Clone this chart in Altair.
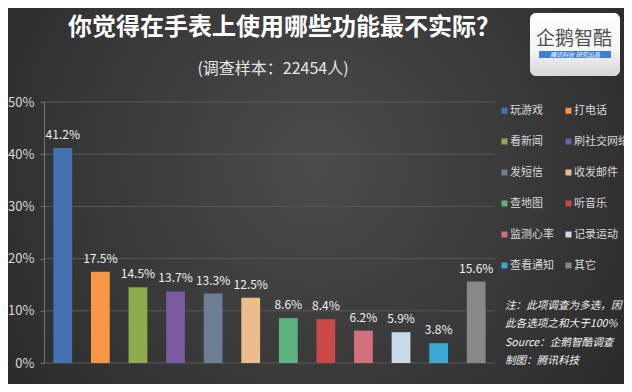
import altair as alt
import pandas as pd

# ---- data ----
categories = ["玩游戏", "打电话", "看新闻", "刷社交网络", "发短信", "收发邮件",
              "查地图", "听音乐", "监测心率", "记录运动", "查看通知", "其它"]
values = [41.2, 17.5, 14.5, 13.7, 13.3, 12.5, 8.6, 8.4, 6.2, 5.9, 3.8, 15.6]
colors = ["#4472b0", "#f79646", "#8fac4c", "#7a5aa0", "#6c7f93", "#ecbc8a",
          "#5db37e", "#c94848", "#d2707c", "#c9dbe8", "#3aa9d3", "#888888"]
y_ticks = [0, 10, 20, 30, 40, 50]
title_text = "你觉得在手表上使用哪些功能最不实际？"
subtitle_text = "(调查样本：22454人)"
notes_lines = ["注：此项调查为多选，因", "此各选项之和大于100%", "",
               "Source：企鹅智酷调查", "制图：腾讯科技"]
logo_name = "企鹅智酷"
logo_tag = "腾讯科技  研究出品"

# ---- layout ----
W, H = 451, 261
PAD_L, PAD_T, PAD_R, PAD_B = 36, 94, 129, 21
FONT = "Noto Sans CJK SC"

df = pd.DataFrame({"category": categories, "value": values})
grid_df = pd.DataFrame({"value": y_ticks})
one = pd.DataFrame({"k": [0]})

# legend fills column by column: order so it reads row by row (2 columns)
legend_order = categories[0::2] + categories[1::2]
legend_colors = colors[0::2] + colors[1::2]

yscale = alt.Scale(domain=[0, 50], nice=False, zero=True)
yaxis = alt.Axis(values=y_ticks, labelExpr="datum.value + '%'",
                 title=None, grid=False, zindex=2,
                 domainColor="#737373", tickColor="#737373",
                 tickSize=4, labelPadding=6, labelColor="#d9d9d9",
                 labelFontSize=13, labelFont=FONT)
xenc = alt.X("category:N", sort=None, axis=None,
             scale=alt.Scale(paddingInner=0.5, paddingOuter=0.25))

bg = alt.Chart(one).mark_rect(
    fill=alt.RadialGradient(
        gradient="radial", x1=0.5, y1=0.45, x2=0.5, y2=0.45, r1=0, r2=0.75,
        stops=[alt.GradientStop(offset=0, color="#4b4b4b"),
               alt.GradientStop(offset=1, color="#242424")])
).encode(x=alt.value(-PAD_L), x2=alt.value(W + PAD_R),
         y=alt.value(-PAD_T), y2=alt.value(H + PAD_B))

grid = alt.Chart(grid_df).mark_rule(color="#5a5a5a", strokeWidth=1).encode(
    y=alt.Y("value:Q", scale=yscale, axis=yaxis),
    x=alt.value(0), x2=alt.value(W))

bars = alt.Chart(df).mark_bar().encode(
    x=xenc,
    y=alt.Y("value:Q", scale=yscale, axis=yaxis),
    color=alt.Color("category:N", sort=legend_order,
                    scale=alt.Scale(domain=legend_order, range=legend_colors),
                    legend=alt.Legend(orient="none", legendX=455, legendY=3,
                                      columns=2, title=None,
                                      symbolType="square", symbolSize=36,
                                      symbolStrokeWidth=0,
                                      labelColor="#d9d9d9", labelFontSize=11,
                                      labelFont=FONT, rowPadding=19,
                                      columnPadding=9, labelOffset=0,
                                      padding=0)))

labels = alt.Chart(df).transform_calculate(
    label="format(datum.value, '.1f') + '%'"
).mark_text(baseline="bottom", dy=-6, color="#f0f0f0", fontSize=12,
            font=FONT).encode(
    x=xenc, y=alt.Y("value:Q", scale=yscale, axis=yaxis), text="label:N")

title = alt.Chart(one).mark_text(
    text=title_text, font=FONT, fontSize=24, fontWeight="bold",
    color="#ffffff", align="center", baseline="middle"
).encode(x=alt.value(240), y=alt.value(-74))

subtitle = alt.Chart(one).mark_text(
    text=subtitle_text, font=FONT, fontSize=16, color="#e6e6e6",
    align="center", baseline="middle"
).encode(x=alt.value(229), y=alt.value(-33))

logo_box = alt.Chart(one).mark_rect(
    cornerRadius=6,
    fill=alt.LinearGradient(
        gradient="linear", x1=0, y1=0, x2=0, y2=1,
        stops=[alt.GradientStop(offset=0, color="#ffffff"),
               alt.GradientStop(offset=0.6, color="#f4f4f4"),
               alt.GradientStop(offset=1, color="#d6d6d6")])
).encode(x=alt.value(486), x2=alt.value(576), y=alt.value(-89), y2=alt.value(-26))

logo_text = alt.Chart(one).mark_text(
    text=logo_name, font=FONT, fontSize=19, color="#505050",
    align="center", baseline="middle"
).encode(x=alt.value(530), y=alt.value(-63))

logo_bar = alt.Chart(one).mark_rect(fill="#3b82d6").encode(
    x=alt.value(495), x2=alt.value(567), y=alt.value(-51), y2=alt.value(-44))

logo_tag_text = alt.Chart(one).mark_text(
    text=logo_tag, font=FONT, fontSize=6, color="#ffffff", fontStyle="italic",
    align="center", baseline="middle"
).encode(x=alt.value(531), y=alt.value(-47.5))

notes = alt.Chart(one).mark_text(
    text=notes_lines, font=FONT, fontSize=10.6, color="#f2f2f2",
    fontStyle="italic", align="left", baseline="alphabetic", lineHeight=18.3
).encode(x=alt.value(461), y=alt.value(207))

chart = alt.layer(
    bg, grid, bars, labels, title, subtitle,
    logo_box, logo_text, logo_bar, logo_tag_text, notes
).properties(
    width=W, height=H,
    autosize=alt.AutoSizeParams(type="none"),
    padding={"left": PAD_L, "top": PAD_T, "right": PAD_R, "bottom": PAD_B},
    background="#2c2c2c"
).configure_view(stroke=None)

chart.save("out.html", embed_options={"renderer": "svg", "actions": False})
